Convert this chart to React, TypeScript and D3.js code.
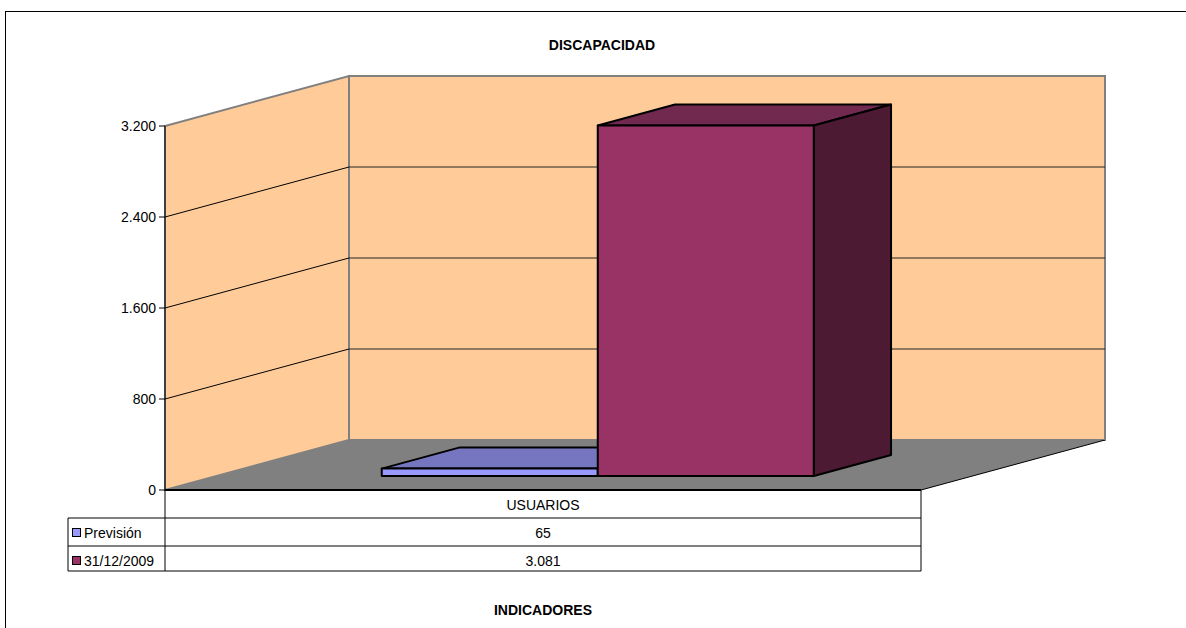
import React from "react";
import * as d3 from "d3";

const title = "DISCAPACIDAD";
const xAxisTitle = "INDICADORES";
const categories = ["USUARIOS"];
const seriesNames = ["Previsión", "31/12/2009"];
const seriesValues = [[65], [3081]];
const yTicks = [0, 800, 1600, 2400, 3200];
const seriesFront = ["#9999FF", "#993366"];
const seriesTop = ["#7676C0", "#72294F"];
const seriesSide = ["#4F4F8A", "#4C1A33"];

const locale = d3.formatLocale({ decimal: ",", thousands: ".", grouping: [3], currency: ["", "€"] });
const fmt = locale.format(",d");

export default function App() {
  const W = 1186, H = 628;
  const left = 165, right = 921, base = 490, top = 126;
  const DX = 184, DY = -50;
  const y = d3.scaleLinear().domain([0, 3200]).range([base, top]);
  const xCat = d3.scaleBand().domain(categories).range([left, right]).padding(0);
  const z0 = 0.28, z1 = 0.7;
  const P = (x: number, v: number, z: number) => [x + z * DX, y(v) + z * DY];
  const pts = (arr: number[][]) => arr.map((p) => p.join(",")).join(" ");
  const font = "Arial, 'Liberation Sans', sans-serif";
  const fs = 14;

  const rowTop = 518, row2 = 546, rowBot = 571, legLeft = 68;

  return (
    <div style={{ position: "absolute", left: 0, top: 0 }}>
      <svg width={W} height={H} style={{ display: "block", background: "#fff" }} fontFamily={font}>
        <rect x={5.5} y={11.5} width={1300} height={700} fill="#fff" stroke="#000" strokeWidth={1} />
        <text x={602} y={50} fontSize={fs} fontWeight="bold" textAnchor="middle">{title}</text>

        {/* side wall */}
        <polygon points={pts([P(left, 0, 0), P(left, 3200, 0), P(left, 3200, 1), P(left, 0, 1)])} fill="#FFCC99" stroke="#808080" strokeWidth={2} />
        {/* back wall */}
        <polygon points={pts([P(left, 0, 1), P(left, 3200, 1), P(right, 3200, 1), P(right, 0, 1)])} fill="#FFCC99" stroke="#808080" strokeWidth={2} />
        {/* floor */}
        <polygon points={pts([P(left, 0, 0), P(left, 0, 1), P(right, 0, 1), P(right, 0, 0)])} fill="#808080" stroke="none" />
        <line x1={P(right, 0, 1)[0]} y1={P(right, 0, 1)[1]} x2={right} y2={base} stroke="#000" strokeWidth={1} />
        <line x1={P(right, 0, 1)[0]} y1={P(right, 0, 1)[1]} x2={P(right, 0, 1)[0]} y2={P(right, 3200, 1)[1]} stroke="#808080" strokeWidth={2} />

        {/* gridlines */}
        {yTicks.filter((t) => t > 0 && t < 3200).map((t) => (
          <g key={t}>
            <line x1={P(left, t, 0)[0]} y1={P(left, t, 0)[1]} x2={P(left, t, 1)[0]} y2={P(left, t, 1)[1]} stroke="#000" strokeWidth={1} />
            <line x1={P(left, t, 1)[0]} y1={P(left, t, 1)[1]} x2={P(right, t, 1)[0]} y2={P(right, t, 1)[1]} stroke="#222" strokeWidth={1} />
          </g>
        ))}

        {/* bars */}
        {categories.map((c, ci) => {
          const xs = d3.scaleBand().domain(seriesNames).range([xCat(c)!, xCat(c)! + xCat.bandwidth()]).paddingInner(0).paddingOuter(0.75).align(0.51);
          return seriesNames.map((s, si) => {
            const v = seriesValues[si][ci];
            const x0 = xs(s)!, x1 = x0 + xs.bandwidth();
            return (
              <g key={s} stroke="#000" strokeWidth={2} strokeLinejoin="round">
                <polygon points={pts([P(x0, v, z0), P(x1, v, z0), P(x1, v, z1), P(x0, v, z1)])} fill={seriesTop[si]} />
                <polygon points={pts([P(x1, v, z0), P(x1, v, z1), P(x1, 0, z1), P(x1, 0, z0)])} fill={seriesSide[si]} />
                <polygon points={pts([P(x0, v, z0), P(x1, v, z0), P(x1, 0, z0), P(x0, 0, z0)])} fill={seriesFront[si]} />
              </g>
            );
          });
        })}

        {/* floor front edge */}
        <line x1={left} y1={base} x2={right} y2={base} stroke="#000" strokeWidth={2} />

        {/* y axis */}
        <line x1={left} y1={top} x2={left} y2={rowBot} stroke="#000" strokeWidth={1} />
        {yTicks.map((t) => (
          <g key={t}>
            <line x1={left - 6} y1={y(t)} x2={left} y2={y(t)} stroke="#000" strokeWidth={1} />
            <text x={left - 9} y={y(t) + 5} fontSize={fs} textAnchor="end">{fmt(t)}</text>
          </g>
        ))}

        {/* data table */}
        <line x1={right} y1={base} x2={right} y2={rowBot} stroke="#000" strokeWidth={1} />
        <line x1={legLeft} y1={rowTop} x2={right} y2={rowTop} stroke="#000" strokeWidth={1} />
        <line x1={legLeft} y1={row2} x2={right} y2={row2} stroke="#000" strokeWidth={1} />
        <line x1={legLeft} y1={rowBot} x2={right} y2={rowBot} stroke="#000" strokeWidth={1} />
        <line x1={legLeft} y1={rowTop} x2={legLeft} y2={rowBot} stroke="#000" strokeWidth={1} />
        {categories.map((c) => (
          <text key={c} x={xCat(c)! + xCat.bandwidth() / 2} y={510} fontSize={fs} textAnchor="middle">{c}</text>
        ))}
        {seriesNames.map((s, si) => {
          const ry = si === 0 ? rowTop : row2;
          return (
            <g key={s}>
              <rect x={72.5} y={ry + 10.5} width={8} height={8} fill={seriesFront[si]} stroke="#000" strokeWidth={1} />
              <text x={84} y={ry + 20} fontSize={fs}>{s}</text>
              {categories.map((c, ci) => (
                <text key={c} x={xCat(c)! + xCat.bandwidth() / 2} y={ry + 20} fontSize={fs} textAnchor="middle">{fmt(seriesValues[si][ci])}</text>
              ))}
            </g>
          );
        })}

        <text x={543} y={615} fontSize={fs} fontWeight="bold" textAnchor="middle">{xAxisTitle}</text>
      </svg>
    </div>
  );
}
